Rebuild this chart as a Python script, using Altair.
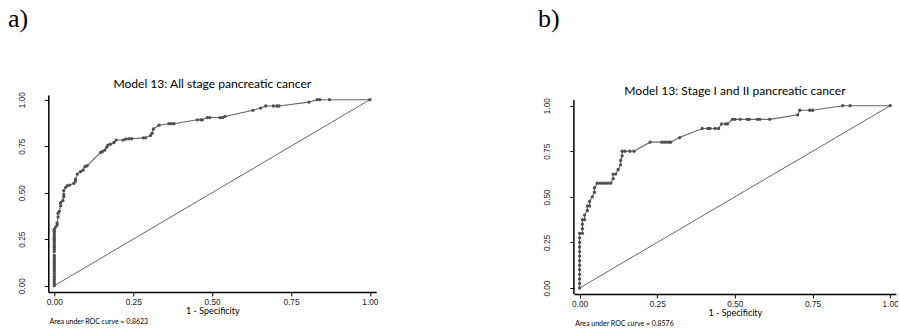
import altair as alt
import pandas as pd

# ---- ROC coordinates (1 - specificity, sensitivity) ----
# Model 13, all-stage pancreatic cancer
a_fpr = [0, 0, 0, 0, 0, 0, 0, 0, 0, 0, 0, 0, 0, 0, 0, 0, 0, 0, 0, 0, 0, 0, 0, 0, 0, 0, 0, 0,
         0.004, 0.009, 0.009, 0.012, 0.012, 0.016, 0.02, 0.02, 0.027, 0.03, 0.03, 0.03, 0.036,
         0.041, 0.049, 0.062, 0.067, 0.067, 0.073, 0.083, 0.091, 0.097, 0.104, 0.147, 0.152,
         0.16, 0.166, 0.17, 0.178, 0.189, 0.196, 0.218, 0.226, 0.236, 0.245, 0.282, 0.289,
         0.305, 0.31, 0.314, 0.332, 0.363, 0.371, 0.379, 0.453, 0.464, 0.469, 0.485, 0.493,
         0.525, 0.533, 0.541, 0.629, 0.654, 0.67, 0.694, 0.705, 0.712, 0.807, 0.833, 0.841,
         0.872, 1.0]
a_tpr = [0.0, 0.011, 0.022, 0.033, 0.044, 0.054, 0.065, 0.076, 0.087, 0.098, 0.109, 0.12,
         0.13, 0.141, 0.152, 0.163, 0.185, 0.196, 0.207, 0.217, 0.228, 0.239, 0.25, 0.261,
         0.272, 0.283, 0.293, 0.304,
         0.315, 0.326, 0.337, 0.37, 0.39, 0.40, 0.43, 0.446, 0.457, 0.478, 0.49, 0.511, 0.529,
         0.538, 0.541, 0.55, 0.562, 0.573, 0.6, 0.613, 0.621, 0.64, 0.645, 0.717, 0.72,
         0.729, 0.745, 0.756, 0.761, 0.77, 0.783, 0.783, 0.788, 0.79, 0.79, 0.795, 0.795,
         0.808, 0.82, 0.843, 0.863, 0.871, 0.871, 0.871, 0.892, 0.892, 0.892, 0.904, 0.904,
         0.904, 0.904, 0.91, 0.943, 0.955, 0.966, 0.966, 0.966, 0.966, 0.987, 1.0, 1.0,
         1.0, 1.0]

# Model 13, stage I and II pancreatic cancer
b_fpr = [0, 0, 0, 0, 0, 0, 0, 0, 0, 0, 0, 0, 0,
         0.009, 0.009, 0.009, 0.009, 0.016, 0.016, 0.025, 0.025, 0.032, 0.032, 0.041, 0.048,
         0.048, 0.057, 0.066, 0.074, 0.083, 0.091, 0.1, 0.108, 0.108, 0.116, 0.124, 0.132,
         0.132, 0.137, 0.137, 0.146, 0.162, 0.175, 0.227, 0.264, 0.272, 0.28, 0.288, 0.293,
         0.322, 0.395, 0.413, 0.42, 0.436, 0.447, 0.457, 0.47, 0.476, 0.492, 0.5, 0.517,
         0.54, 0.546, 0.572, 0.58, 0.612, 0.702, 0.709, 0.741, 0.75, 0.847, 0.871, 1.0]
b_tpr = [0.0, 0.025, 0.05, 0.075, 0.1, 0.125, 0.15, 0.175, 0.2, 0.225, 0.25, 0.275, 0.3,
         0.3, 0.325, 0.35, 0.375, 0.375, 0.4, 0.425, 0.45, 0.45, 0.475, 0.5, 0.525,
         0.55, 0.575, 0.575, 0.575, 0.575, 0.575, 0.575, 0.6, 0.625, 0.625, 0.65, 0.675,
         0.7, 0.725, 0.75, 0.75, 0.75, 0.75, 0.8, 0.8, 0.8, 0.8, 0.8, 0.8,
         0.825, 0.875, 0.875, 0.875, 0.875, 0.875, 0.9, 0.9, 0.9, 0.925, 0.925, 0.925,
         0.925, 0.925, 0.925, 0.925, 0.925, 0.95, 0.975, 0.975, 0.975, 1.0, 1.0, 1.0]

tick_values = [0, 0.25, 0.5, 0.75, 1.0]
chance_line = [0, 1]

titles = ["Model 13: All stage pancreatic cancer",
          "Model 13: Stage I and II pancreatic cancer"]
auc_notes = ["Area under ROC curve = 0.8623", "Area under ROC curve = 0.8576"]
tags = ["a)", "b)"]

CURVE = "#666666"
DOT = "#4f4f4f"
SANS = "Lato"
TICKFONT = "Liberation Sans"


def roc_panel(fpr, tpr, title, note, tag, width, height, xdom, ydom,
              title_y, tag_x, draw_y_line_from=None):
    pts = pd.DataFrame({"fpr": fpr, "tpr": tpr, "k": list(range(len(fpr)))})
    diag = pd.DataFrame({"fpr": chance_line, "tpr": chance_line})

    x_axis = alt.Axis(values=tick_values, format=".2f", labelAngle=0, labelFlush=False,
                      labelFont=TICKFONT, labelFontSize=8.3, labelColor="#222222",
                      labelPadding=2, tickSize=4, tickColor="black", tickWidth=1,
                      domainColor="black", domainWidth=1.5, grid=False,
                      title="1 - Specificity", titleFont=SANS, titleFontSize=9,
                      titleFontWeight="normal", titleColor="black",
                      titleAlign="center", titleBaseline="alphabetic",
                      titleX=width / 2, titleY=22)
    y_axis = alt.Axis(values=tick_values, format=".2f", labelAngle=270,
                      labelAlign="center", labelBaseline="middle",
                      labelFont=TICKFONT, labelFontSize=8.3, labelColor="#222222",
                      labelPadding=22, tickSize=4, tickColor="black", tickWidth=1,
                      domain=draw_y_line_from is None,
                      domainColor="black", domainWidth=1.5, grid=False, title=None)

    xs = alt.Scale(domain=xdom, nice=False, zero=False)
    ys = alt.Scale(domain=ydom, nice=False, zero=False)

    ref = alt.Chart(diag).mark_line(color="#555555", strokeWidth=0.9).encode(
        x=alt.X("fpr:Q", scale=xs, axis=x_axis),
        y=alt.Y("tpr:Q", scale=ys, axis=y_axis),
    )
    curve = alt.Chart(pts).mark_line(color=CURVE, strokeWidth=1.1).encode(
        x="fpr:Q", y="tpr:Q", order="k:Q")
    dots = alt.Chart(pts).mark_circle(color=DOT, opacity=1, size=11).encode(
        x="fpr:Q", y="tpr:Q")

    label_df = pd.DataFrame({"t": [title]})
    head = alt.Chart(label_df).mark_text(
        font=SANS, fontSize=12.1, align="center", baseline="alphabetic", color="black"
    ).encode(text="t:N", x=alt.value(width / 2), y=alt.value(title_y))

    note_mark = alt.Chart(pd.DataFrame({"t": [note]})).mark_text(
        font=SANS, fontSize=7, align="left", baseline="alphabetic", color="black"
    ).encode(text="t:N", x=alt.value(1.3), y=alt.value(height + 32.5))

    tag_mark = alt.Chart(pd.DataFrame({"t": [tag]})).mark_text(
        font="Liberation Serif", fontSize=26, align="left", baseline="alphabetic",
        color="black"
    ).encode(text="t:N", x=alt.value(tag_x), y=alt.value(-68.3))

    layers = [ref, curve, dots, head, note_mark, tag_mark]
    if draw_y_line_from is not None:
        axis_line = alt.Chart(pd.DataFrame({"t": [0]})).mark_rule(
            color="black", strokeWidth=1.5
        ).encode(x=alt.value(0), y=alt.value(draw_y_line_from), y2=alt.value(height))
        layers.append(axis_line)

    return alt.layer(*layers).properties(width=width, height=height)


panel_a = roc_panel(a_fpr, a_tpr, titles[0], auc_notes[0], tags[0],
                    width=328, height=197,
                    xdom=[-0.019, 1.0203], ydom=[-0.0339, 1.0253],
                    title_y=-6.6, tag_x=-40.4)
panel_b = roc_panel(b_fpr, b_tpr, titles[1], auc_notes[1], tags[1],
                    width=322, height=199,
                    xdom=[-0.0184, 1.0184], ydom=[-0.0329, 1.0587],
                    title_y=-0.3, tag_x=-36, draw_y_line_from=5)

chart = alt.hconcat(panel_a, panel_b, spacing=197.6, bounds="flush").properties(
    padding={"left": 7.3, "top": 5, "right": 0, "bottom": 0},
    background="white",
).configure_view(stroke=None)

chart.save("out.html", embed_options={"renderer": "svg", "actions": False})
